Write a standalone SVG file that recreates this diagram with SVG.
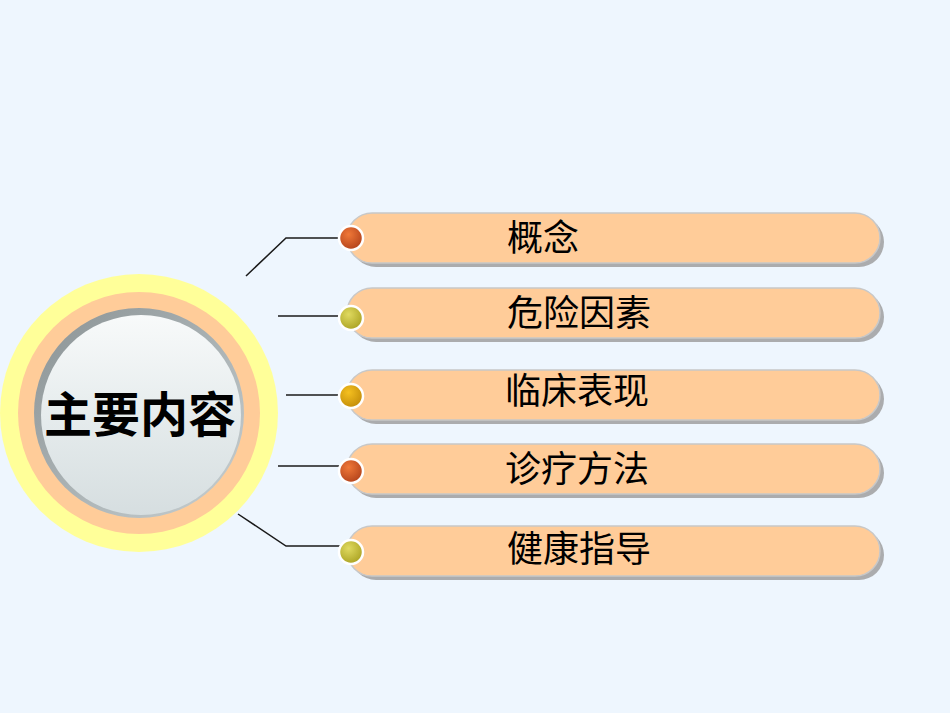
<svg xmlns="http://www.w3.org/2000/svg" width="950" height="713" viewBox="0 0 950 713">
<style>
.bar{fill:#FFCC99;stroke:#C8C8C8;stroke-width:1.5}
.shadow{fill:#9A9A9A;opacity:0.8}
.lbl{font-family:"Noto Sans CJK SC","Liberation Sans",sans-serif;font-size:36px;fill:#000}
.conn{fill:none;stroke:#1a1a1a;stroke-width:1.5}
.ball{stroke:#FFFFFF;stroke-width:2.5}
</style>
<defs>
<radialGradient id="gRed" cx="0.4" cy="0.35" r="0.7"><stop offset="0" stop-color="#F07838"/><stop offset="1" stop-color="#B0401A"/></radialGradient>
<radialGradient id="gOlive" cx="0.4" cy="0.35" r="0.7"><stop offset="0" stop-color="#E0DA60"/><stop offset="1" stop-color="#A8A020"/></radialGradient>
<radialGradient id="gGold" cx="0.4" cy="0.35" r="0.7"><stop offset="0" stop-color="#F5C020"/><stop offset="1" stop-color="#C08A08"/></radialGradient>
<linearGradient id="gInner" x1="0" y1="0" x2="0" y2="1"><stop offset="0" stop-color="#F8FAFA"/><stop offset="0.5" stop-color="#E6ECED"/><stop offset="1" stop-color="#D6DEE0"/></linearGradient>
<linearGradient id="gRim" x1="0" y1="0" x2="1" y2="1"><stop offset="0" stop-color="#8A9294"/><stop offset="1" stop-color="#C8D0D2"/></linearGradient>
</defs>
<rect width="950" height="713" fill="#EEF6FE"/>
<g id="connectors">
<polyline class="conn" points="246,276 286,238 342,238"/>
<line class="conn" x1="278" y1="316" x2="342" y2="316"/>
<line class="conn" x1="286" y1="395" x2="342" y2="395"/>
<line class="conn" x1="278" y1="466" x2="342" y2="466"/>
<polyline class="conn" points="238,514 286,546 342,546"/>
</g>
<g id="center">
<circle cx="139" cy="413" r="139" fill="#FFFF99"/>
<circle cx="139" cy="413" r="121" fill="#FFCC99"/>
<circle cx="139" cy="413" r="105" fill="url(#gRim)"/>
<circle cx="141" cy="415" r="100" fill="url(#gInner)"/>
<text x="140" y="432" text-anchor="middle" font-family="'Noto Sans CJK SC','Liberation Sans',sans-serif" font-size="48" font-weight="bold" fill="#000">主要内容</text>
</g>
<g id="n1">
<rect class="shadow" x="351" y="217" width="533" height="50" rx="25"/>
<rect class="bar" x="347" y="213" width="533" height="50" rx="25"/>
<circle class="ball" cx="351" cy="238" r="12" fill="url(#gRed)"/>
<text class="lbl" x="507" y="251">概念</text>
</g>
<g id="n2">
<rect class="shadow" x="351" y="292" width="533" height="50" rx="25"/>
<rect class="bar" x="347" y="288" width="533" height="50" rx="25"/>
<circle class="ball" cx="351" cy="318" r="12" fill="url(#gOlive)"/>
<text class="lbl" x="507" y="326">危险因素</text>
</g>
<g id="n3">
<rect class="shadow" x="351" y="374" width="533" height="50" rx="25"/>
<rect class="bar" x="347" y="370" width="533" height="50" rx="25"/>
<circle class="ball" cx="351" cy="396" r="12" fill="url(#gGold)"/>
<text class="lbl" x="505" y="404">临床表现</text>
</g>
<g id="n4">
<rect class="shadow" x="351" y="448" width="533" height="50" rx="25"/>
<rect class="bar" x="347" y="444" width="533" height="50" rx="25"/>
<circle class="ball" cx="351" cy="471" r="12" fill="url(#gRed)"/>
<text class="lbl" x="505" y="482">诊疗方法</text>
</g>
<g id="n5">
<rect class="shadow" x="351" y="530" width="533" height="50" rx="25"/>
<rect class="bar" x="347" y="526" width="533" height="50" rx="25"/>
<circle class="ball" cx="351" cy="552" r="12" fill="url(#gOlive)"/>
<text class="lbl" x="507" y="562">健康指导</text>
</g>
</svg>
